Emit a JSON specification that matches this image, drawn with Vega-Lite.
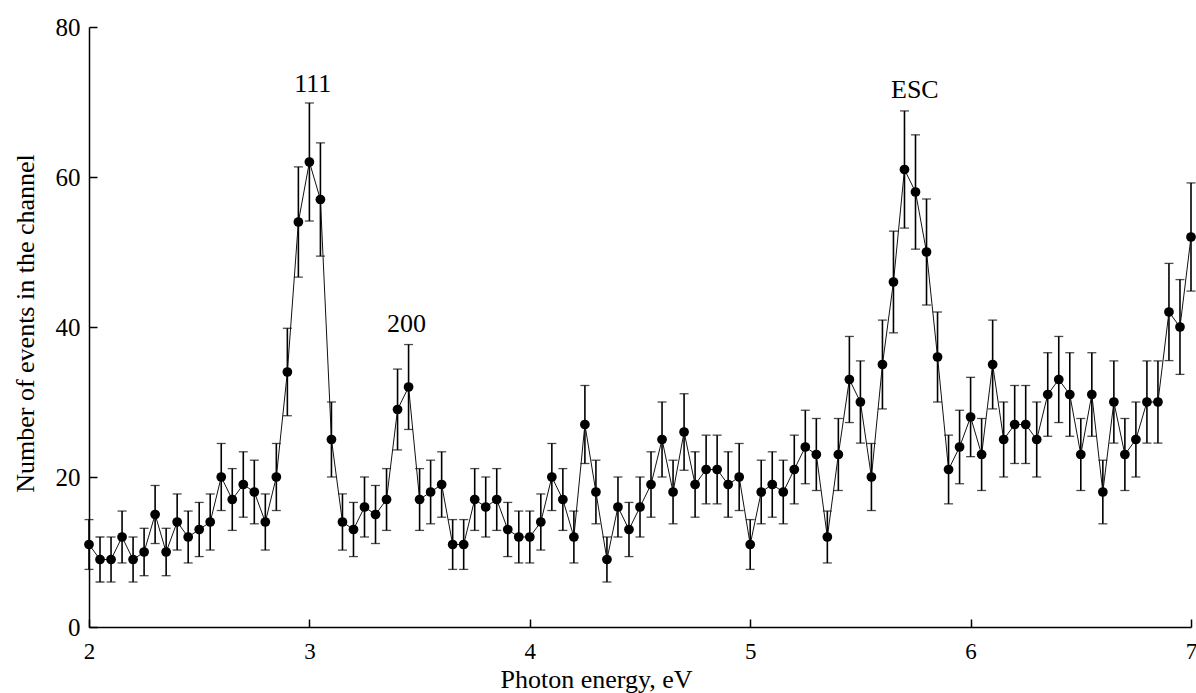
{
  "$schema": "https://vega.github.io/schema/vega-lite/v6.json",
  "width": 1102,
  "height": 600,
  "autosize": "none",
  "padding": {"left": 89, "top": 27, "right": 5, "bottom": 66},
  "background": "white",
  "config": {
    "view": {"stroke": null},
    "font": "Liberation Serif",
    "axis": {
      "grid": false,
      "domainColor": "black",
      "domainWidth": 1.5,
      "tickColor": "black",
      "tickWidth": 1.5,
      "tickSize": -8,
      "labelColor": "black",
      "labelFont": "Liberation Serif",
      "labelFontSize": 25,
      "labelFlush": false,
      "titleColor": "black",
      "titleFont": "Liberation Serif",
      "titleFontSize": 26,
      "titleFontWeight": "normal"
    }
  },
  "datasets": {
    "spectrum": [
      {"energy": 2.00, "count": 11, "err": 3.32},
      {"energy": 2.05, "count": 9, "err": 3.00},
      {"energy": 2.10, "count": 9, "err": 3.00},
      {"energy": 2.15, "count": 12, "err": 3.46},
      {"energy": 2.20, "count": 9, "err": 3.00},
      {"energy": 2.25, "count": 10, "err": 3.16},
      {"energy": 2.30, "count": 15, "err": 3.87},
      {"energy": 2.35, "count": 10, "err": 3.16},
      {"energy": 2.40, "count": 14, "err": 3.74},
      {"energy": 2.45, "count": 12, "err": 3.46},
      {"energy": 2.50, "count": 13, "err": 3.61},
      {"energy": 2.55, "count": 14, "err": 3.74},
      {"energy": 2.60, "count": 20, "err": 4.47},
      {"energy": 2.65, "count": 17, "err": 4.12},
      {"energy": 2.70, "count": 19, "err": 4.36},
      {"energy": 2.75, "count": 18, "err": 4.24},
      {"energy": 2.80, "count": 14, "err": 3.74},
      {"energy": 2.85, "count": 20, "err": 4.47},
      {"energy": 2.90, "count": 34, "err": 5.83},
      {"energy": 2.95, "count": 54, "err": 7.35},
      {"energy": 3.00, "count": 62, "err": 7.87},
      {"energy": 3.05, "count": 57, "err": 7.55},
      {"energy": 3.10, "count": 25, "err": 5.00},
      {"energy": 3.15, "count": 14, "err": 3.74},
      {"energy": 3.20, "count": 13, "err": 3.61},
      {"energy": 3.25, "count": 16, "err": 4.00},
      {"energy": 3.30, "count": 15, "err": 3.87},
      {"energy": 3.35, "count": 17, "err": 4.12},
      {"energy": 3.40, "count": 29, "err": 5.39},
      {"energy": 3.45, "count": 32, "err": 5.66},
      {"energy": 3.50, "count": 17, "err": 4.12},
      {"energy": 3.55, "count": 18, "err": 4.24},
      {"energy": 3.60, "count": 19, "err": 4.36},
      {"energy": 3.65, "count": 11, "err": 3.32},
      {"energy": 3.70, "count": 11, "err": 3.32},
      {"energy": 3.75, "count": 17, "err": 4.12},
      {"energy": 3.80, "count": 16, "err": 4.00},
      {"energy": 3.85, "count": 17, "err": 4.12},
      {"energy": 3.90, "count": 13, "err": 3.61},
      {"energy": 3.95, "count": 12, "err": 3.46},
      {"energy": 4.00, "count": 12, "err": 3.46},
      {"energy": 4.05, "count": 14, "err": 3.74},
      {"energy": 4.10, "count": 20, "err": 4.47},
      {"energy": 4.15, "count": 17, "err": 4.12},
      {"energy": 4.20, "count": 12, "err": 3.46},
      {"energy": 4.25, "count": 27, "err": 5.20},
      {"energy": 4.30, "count": 18, "err": 4.24},
      {"energy": 4.35, "count": 9, "err": 3.00},
      {"energy": 4.40, "count": 16, "err": 4.00},
      {"energy": 4.45, "count": 13, "err": 3.61},
      {"energy": 4.50, "count": 16, "err": 4.00},
      {"energy": 4.55, "count": 19, "err": 4.36},
      {"energy": 4.60, "count": 25, "err": 5.00},
      {"energy": 4.65, "count": 18, "err": 4.24},
      {"energy": 4.70, "count": 26, "err": 5.10},
      {"energy": 4.75, "count": 19, "err": 4.36},
      {"energy": 4.80, "count": 21, "err": 4.58},
      {"energy": 4.85, "count": 21, "err": 4.58},
      {"energy": 4.90, "count": 19, "err": 4.36},
      {"energy": 4.95, "count": 20, "err": 4.47},
      {"energy": 5.00, "count": 11, "err": 3.32},
      {"energy": 5.05, "count": 18, "err": 4.24},
      {"energy": 5.10, "count": 19, "err": 4.36},
      {"energy": 5.15, "count": 18, "err": 4.24},
      {"energy": 5.20, "count": 21, "err": 4.58},
      {"energy": 5.25, "count": 24, "err": 4.90},
      {"energy": 5.30, "count": 23, "err": 4.80},
      {"energy": 5.35, "count": 12, "err": 3.46},
      {"energy": 5.40, "count": 23, "err": 4.80},
      {"energy": 5.45, "count": 33, "err": 5.74},
      {"energy": 5.50, "count": 30, "err": 5.48},
      {"energy": 5.55, "count": 20, "err": 4.47},
      {"energy": 5.60, "count": 35, "err": 5.92},
      {"energy": 5.65, "count": 46, "err": 6.78},
      {"energy": 5.70, "count": 61, "err": 7.81},
      {"energy": 5.75, "count": 58, "err": 7.62},
      {"energy": 5.80, "count": 50, "err": 7.07},
      {"energy": 5.85, "count": 36, "err": 6.00},
      {"energy": 5.90, "count": 21, "err": 4.58},
      {"energy": 5.95, "count": 24, "err": 4.90},
      {"energy": 6.00, "count": 28, "err": 5.29},
      {"energy": 6.05, "count": 23, "err": 4.80},
      {"energy": 6.10, "count": 35, "err": 5.92},
      {"energy": 6.15, "count": 25, "err": 5.00},
      {"energy": 6.20, "count": 27, "err": 5.20},
      {"energy": 6.25, "count": 27, "err": 5.20},
      {"energy": 6.30, "count": 25, "err": 5.00},
      {"energy": 6.35, "count": 31, "err": 5.57},
      {"energy": 6.40, "count": 33, "err": 5.74},
      {"energy": 6.45, "count": 31, "err": 5.57},
      {"energy": 6.50, "count": 23, "err": 4.80},
      {"energy": 6.55, "count": 31, "err": 5.57},
      {"energy": 6.60, "count": 18, "err": 4.24},
      {"energy": 6.65, "count": 30, "err": 5.48},
      {"energy": 6.70, "count": 23, "err": 4.80},
      {"energy": 6.75, "count": 25, "err": 5.00},
      {"energy": 6.80, "count": 30, "err": 5.48},
      {"energy": 6.85, "count": 30, "err": 5.48},
      {"energy": 6.90, "count": 42, "err": 6.48},
      {"energy": 6.95, "count": 40, "err": 6.32},
      {"energy": 7.00, "count": 52, "err": 7.21}
    ],
    "labels": [
      {"label": "111", "energy": 3.015, "count": 71.4},
      {"label": "200", "energy": 3.44, "count": 39.3},
      {"label": "ESC", "energy": 5.747, "count": 70.6}
    ]
  },
  "layer": [
    {
      "data": {"name": "spectrum"},
      "mark": {"type": "errorbar", "color": "black", "ticks": {"size": 9, "thickness": 1.3, "color": "black"}, "rule": {"strokeWidth": 1.6, "color": "black"}},
      "encoding": {
        "x": {"field": "energy", "type": "quantitative",
              "scale": {"domain": [2, 7], "nice": false, "zero": false},
              "axis": {"values": [2, 3, 4, 5, 6, 7], "format": "d", "title": "Photon energy, eV", "labelFontSize": 23, "labelPadding": 21, "titleX": 507, "titleY": 60, "titleBaseline": "alphabetic", "titleAlign": "center"}},
        "y": {"field": "count", "type": "quantitative",
              "scale": {"domain": [0, 80], "nice": false},
              "axis": {"values": [0, 20, 40, 60, 80], "format": "d", "title": "Number of events in the channel", "labelPadding": 17, "titleAngle": 270, "titleX": -56, "titleY": 296, "titleBaseline": "alphabetic", "titleAlign": "center"}},
        "yError": {"field": "err"}
      }
    },
    {
      "data": {"name": "spectrum"},
      "mark": {"type": "line", "color": "#111111", "strokeWidth": 1},
      "encoding": {
        "x": {"field": "energy", "type": "quantitative"},
        "y": {"field": "count", "type": "quantitative"}
      }
    },
    {
      "data": {"name": "spectrum"},
      "mark": {"type": "point", "shape": "circle", "filled": true, "color": "black", "opacity": 1, "size": 95},
      "encoding": {
        "x": {"field": "energy", "type": "quantitative"},
        "y": {"field": "count", "type": "quantitative"}
      }
    },
    {
      "data": {"name": "labels"},
      "mark": {"type": "text", "font": "Liberation Serif", "fontSize": 26, "align": "center", "baseline": "alphabetic", "color": "black"},
      "encoding": {
        "x": {"field": "energy", "type": "quantitative"},
        "y": {"field": "count", "type": "quantitative"},
        "text": {"field": "label"}
      }
    }
  ]
}
